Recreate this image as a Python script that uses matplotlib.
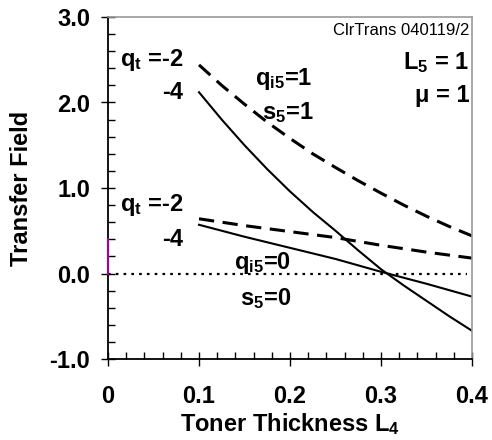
import matplotlib
matplotlib.use("Agg")
import matplotlib.pyplot as plt
from matplotlib.ticker import MultipleLocator, FixedLocator, FixedFormatter

plt.rcParams['font.family'] = ['Liberation Sans', 'DejaVu Sans']
plt.rcParams['mathtext.fontset'] = 'custom'
plt.rcParams['mathtext.bf'] = 'Liberation Sans:bold'
plt.rcParams['mathtext.rm'] = 'Liberation Sans:bold'
plt.rcParams['mathtext.it'] = 'Liberation Sans:bold'
plt.rcParams['mathtext.default'] = 'bf'

# Data
L4 = [0.10, 0.125, 0.15, 0.175, 0.20, 0.225, 0.25, 0.275, 0.30, 0.325, 0.35, 0.375, 0.40]
upper_dashed = [2.44, 2.20, 1.98, 1.77, 1.58, 1.40, 1.24, 1.085, 0.94, 0.80, 0.67, 0.55, 0.44]   # qt=-2, qi5=1
upper_solid = [2.12, 1.80, 1.50, 1.22, 0.96, 0.72, 0.50, 0.27, 0.05, -0.14, -0.32, -0.50, -0.67]  # qt=-4, qi5=1
L4b = [0.10, 0.15, 0.20, 0.25, 0.30, 0.35, 0.40]
lower_dashed = [0.64, 0.56, 0.49, 0.42, 0.33, 0.25, 0.18]   # qt=-2, qi5=0
lower_solid = [0.57, 0.43, 0.30, 0.17, 0.02, -0.12, -0.27]  # qt=-4, qi5=0
zero_x = [0.0, 0.395]
zero_y = [0.0, 0.0]
mag_x = [0.0, 0.0]
mag_y = [0.0, 0.4]

xticks = [0, 0.1, 0.2, 0.3, 0.4]
xticklabels = ['0', '0.1', '0.2', '0.3', '0.4']
yticks = [-1.0, 0.0, 1.0, 2.0, 3.0]
yticklabels = ['-1.0', '0.0', '1.0', '2.0', '3.0']

fig = plt.figure(figsize=(4.92, 4.40), dpi=100)
ax = fig.add_axes([108/492, 81/440, 364/492, 342/440])

dash = (0, (5, 2.8))
ax.plot(L4, upper_dashed, color='black', lw=2.2, linestyle=dash)
ax.plot(L4b, lower_dashed, color='black', lw=2.2, linestyle=dash)
ax.plot(L4, upper_solid, color='black', lw=1.5)
ax.plot(L4b, lower_solid, color='black', lw=1.5)
ax.plot(zero_x, zero_y, color='black', lw=1.6, linestyle=(0, (1.2, 2.3)))
ax.plot(mag_x, mag_y, color='#a000a0', lw=1.5, clip_on=False, zorder=5)

ax.set_xlim(0, 0.4)
ax.set_ylim(-1.0, 3.0)

ax.xaxis.set_major_locator(FixedLocator(xticks))
ax.xaxis.set_major_formatter(FixedFormatter(xticklabels))
ax.xaxis.set_minor_locator(MultipleLocator(0.02))
ax.yaxis.set_major_locator(FixedLocator(yticks))
ax.yaxis.set_major_formatter(FixedFormatter(yticklabels))
ax.yaxis.set_minor_locator(MultipleLocator(0.2))

ax.tick_params(which='major', direction='inout', length=10, width=1, labelsize=17, pad=8)
ax.tick_params(axis='x', which='major', pad=14)
ax.tick_params(which='minor', direction='in', length=5, width=1)
for lab in ax.get_xticklabels() + ax.get_yticklabels():
    lab.set_fontweight('bold')

for s in ['top', 'right']:
    ax.spines[s].set_color('#999999')
    ax.spines[s].set_linewidth(1.2)
for s in ['left', 'bottom']:
    ax.spines[s].set_color('black')
    ax.spines[s].set_linewidth(1.3)

ax.set_xlabel('Toner Thickness L$_4$', fontsize=17, fontweight='bold', labelpad=2)
ax.set_ylabel('Transfer Field', fontsize=17, fontweight='bold', labelpad=12)

tk = dict(fontsize=17, fontweight='bold', transform=ax.transData)
ax.text(0.397, 2.84, 'ClrTrans 040119/2', fontsize=12, ha='right', va='center')
ax.text(0.397, 2.47, 'L$_5$ = 1', ha='right', va='center', **tk)
ax.text(0.397, 2.08, 'μ = 1', ha='right', va='center', **tk)
ax.text(0.083, 2.5, '$q_t$ =-2', ha='right', va='center', **tk)
ax.text(0.083, 2.12, '-4', ha='right', va='center', **tk)
ax.text(0.161, 2.28, '$q_{i5}$=1', ha='left', va='center', **tk)
ax.text(0.169, 1.88, '$s_5$=1', ha='left', va='center', **tk)
ax.text(0.083, 0.80, '$q_t$ =-2', ha='right', va='center', **tk)
ax.text(0.083, 0.40, '-4', ha='right', va='center', **tk)
ax.text(0.139, 0.12, '$q_{i5}$=0', ha='left', va='center', **tk)
ax.text(0.145, -0.29, '$s_5$=0', ha='left', va='center', **tk)

fig.savefig('out.png', dpi=100)
